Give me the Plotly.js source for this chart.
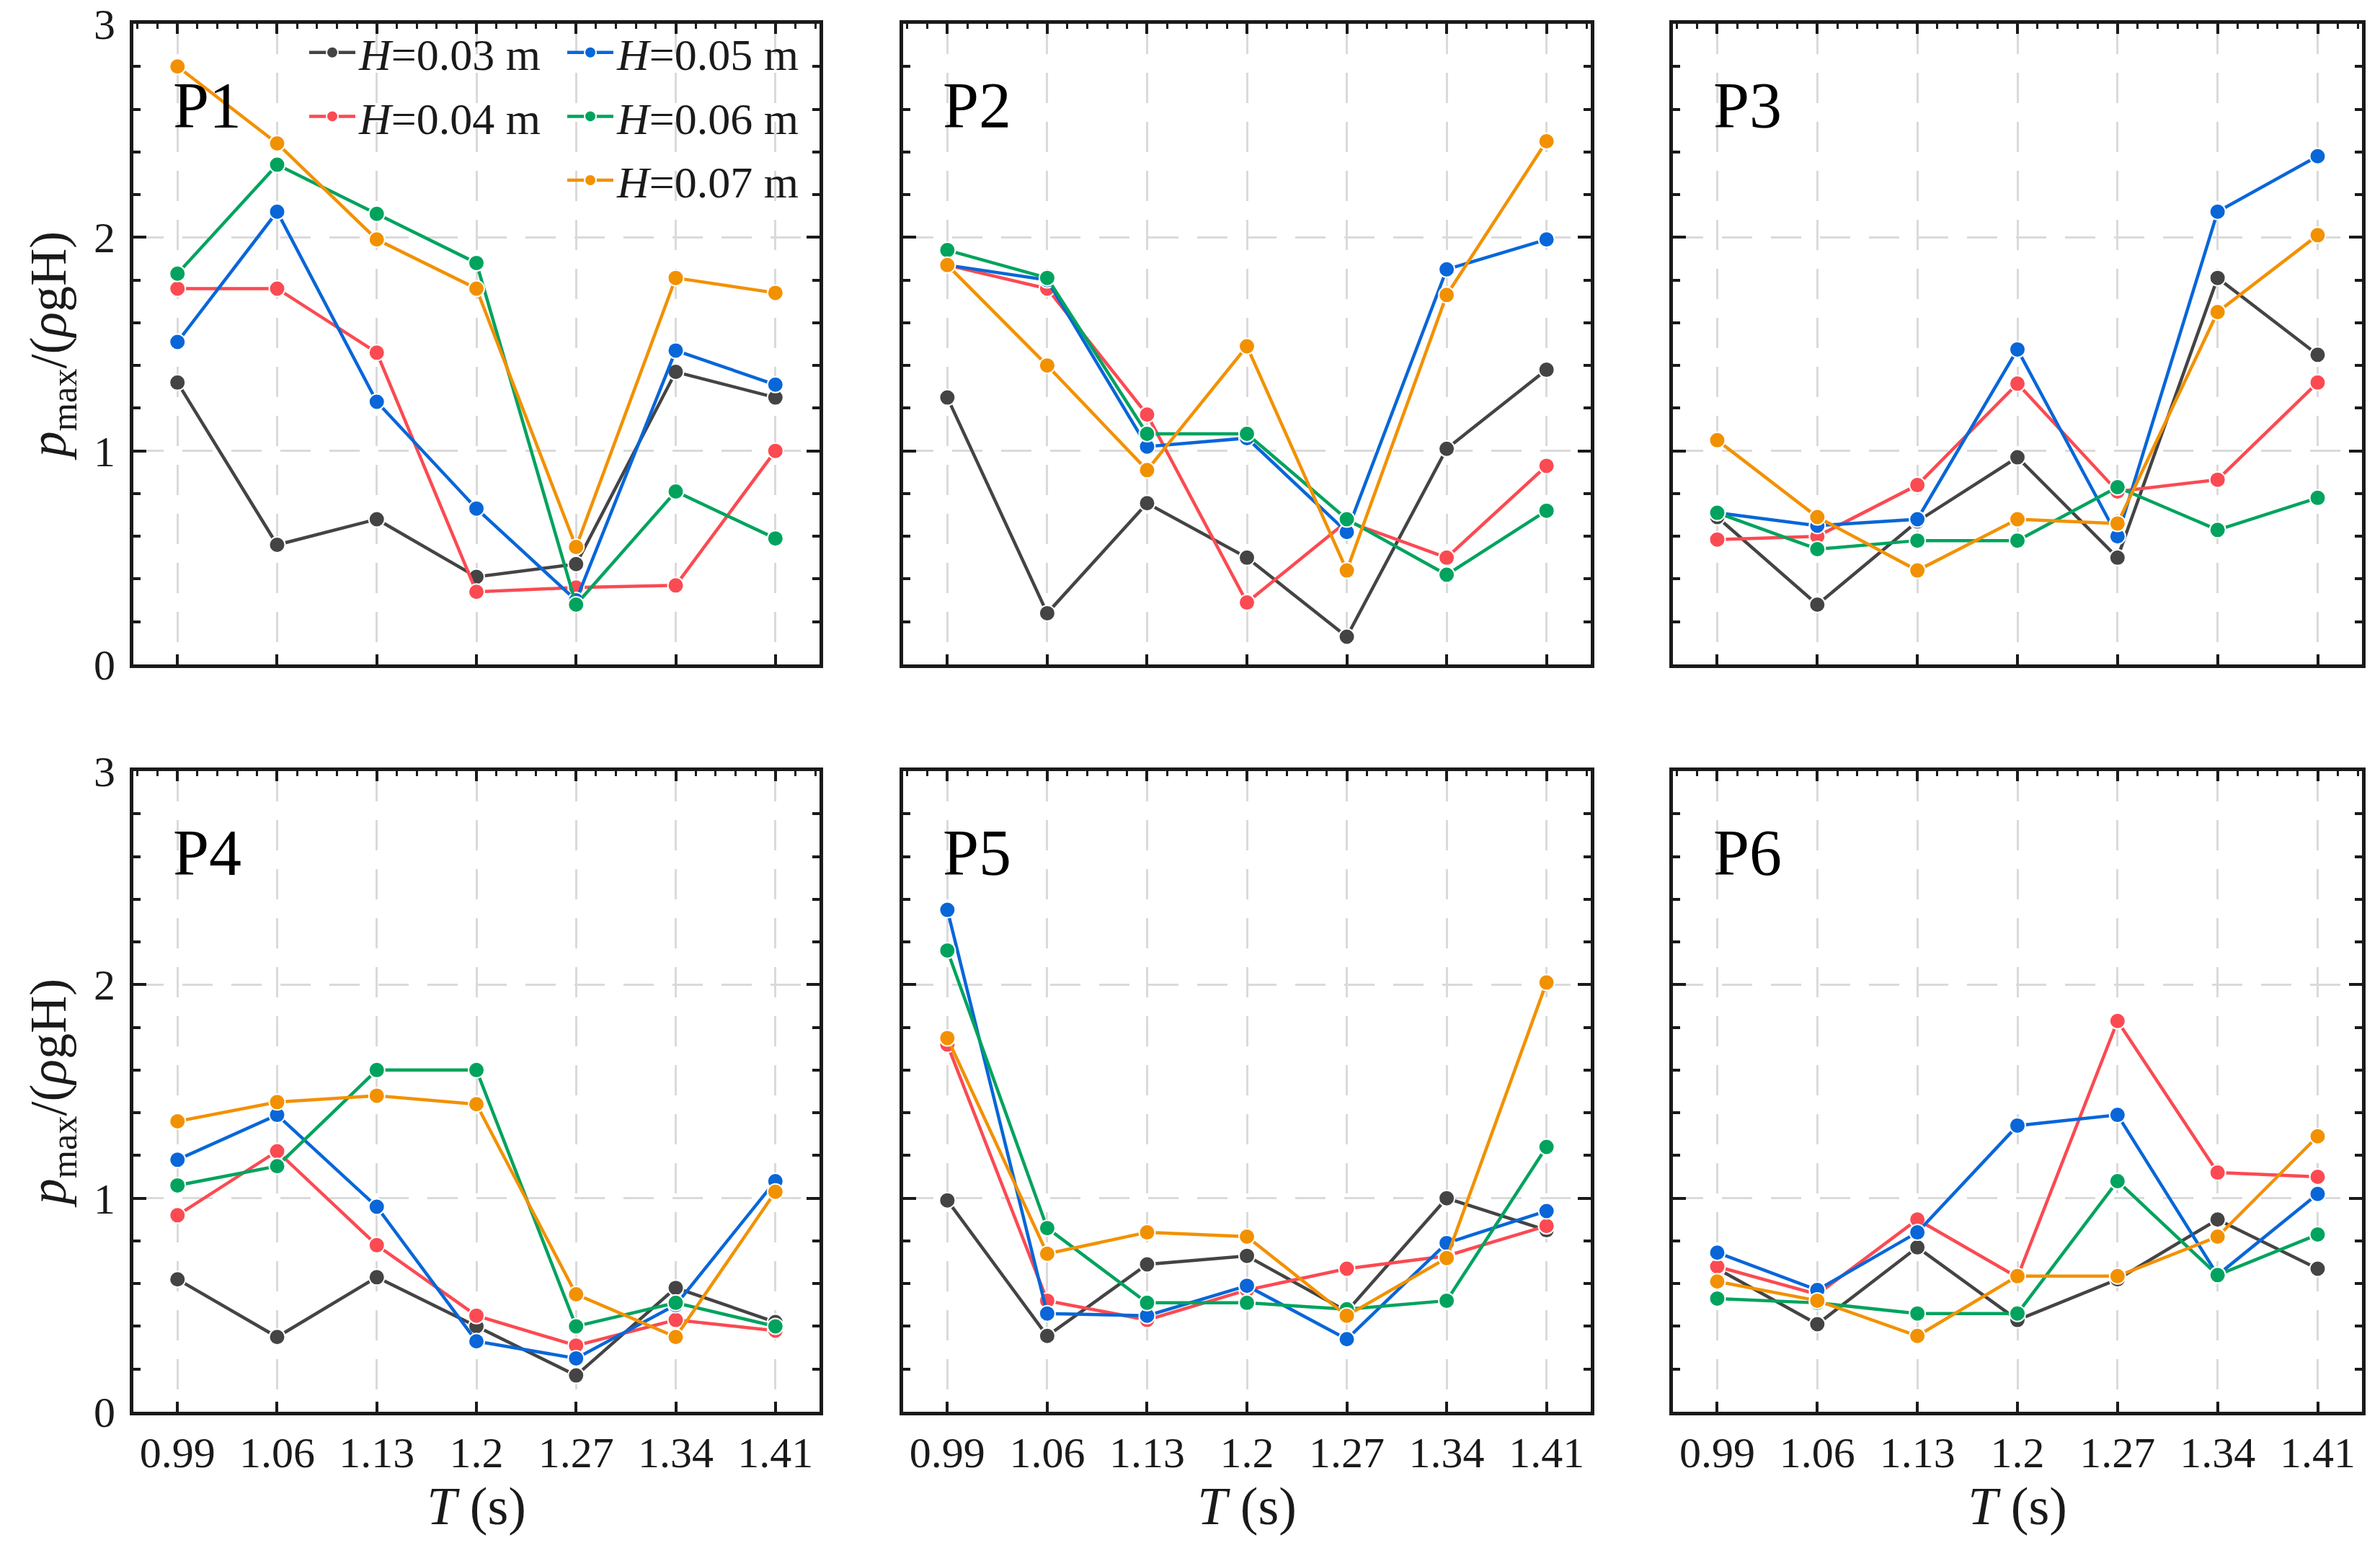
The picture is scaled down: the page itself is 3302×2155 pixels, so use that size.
<!DOCTYPE html>
<html>
<head>
<meta charset="utf-8">
<script src="https://cdn.plot.ly/plotly-3.0.1.min.js"></script>
<style>html,body{margin:0;padding:0;background:#fff;}#chart{width:3302px;height:2155px;}</style>
</head>
<body>
<div id="chart"></div>
<script>
// ---- data ----
const T = [0.99, 1.06, 1.13, 1.2, 1.27, 1.34, 1.41];
const tickLabels = ['0.99', '1.06', '1.13', '1.2', '1.27', '1.34', '1.41'];
const seriesNames = ['<i>H</i>=0.03 m', '<i>H</i>=0.04 m', '<i>H</i>=0.05 m', '<i>H</i>=0.06 m', '<i>H</i>=0.07 m'];
const panelNames = ['P1', 'P2', 'P3', 'P4', 'P5', 'P6'];

const P1_H003 = [1.32, 0.56, 0.68, 0.41, 0.47, 1.37, 1.25];
const P1_H004 = [1.76, 1.76, 1.46, 0.34, 0.36, 0.37, 1.00];
const P1_H005 = [1.51, 2.12, 1.23, 0.73, 0.30, 1.47, 1.31];
const P1_H006 = [1.83, 2.34, 2.11, 1.88, 0.28, 0.81, 0.59];
const P1_H007 = [2.80, 2.44, 1.99, 1.76, 0.55, 1.81, 1.74];

const P2_H003 = [1.25, 0.24, 0.755, 0.50, 0.13, 1.01, 1.38];
const P2_H004 = [1.87, 1.76, 1.17, 0.29, 0.67, 0.50, 0.93];
const P2_H005 = [1.87, 1.80, 1.02, 1.06, 0.62, 1.85, 1.99];
const P2_H006 = [1.94, 1.81, 1.08, 1.08, 0.68, 0.42, 0.72];
const P2_H007 = [1.87, 1.40, 0.91, 1.49, 0.44, 1.73, 2.45];

const P3_H003 = [0.69, 0.28, 0.67, 0.97, 0.50, 1.81, 1.45];
const P3_H004 = [0.585, 0.60, 0.84, 1.315, 0.81, 0.865, 1.32];
const P3_H005 = [0.71, 0.65, 0.68, 1.475, 0.60, 2.12, 2.38];
const P3_H006 = [0.71, 0.54, 0.58, 0.58, 0.83, 0.63, 0.78];
const P3_H007 = [1.05, 0.69, 0.44, 0.68, 0.66, 1.65, 2.01];

const P4_H003 = [0.62, 0.35, 0.63, 0.40, 0.17, 0.58, 0.42];
const P4_H004 = [0.92, 1.22, 0.78, 0.45, 0.31, 0.43, 0.38];
const P4_H005 = [1.18, 1.39, 0.96, 0.33, 0.25, 0.50, 1.08];
const P4_H006 = [1.06, 1.15, 1.60, 1.60, 0.40, 0.51, 0.40];
const P4_H007 = [1.36, 1.45, 1.48, 1.44, 0.55, 0.35, 1.03];

const P5_H003 = [0.99, 0.355, 0.69, 0.73, 0.47, 1.00, 0.85];
const P5_H004 = [1.72, 0.52, 0.43, 0.57, 0.67, 0.73, 0.87];
const P5_H005 = [2.35, 0.46, 0.45, 0.59, 0.34, 0.79, 0.94];
const P5_H006 = [2.16, 0.86, 0.51, 0.51, 0.48, 0.52, 1.24];
const P5_H007 = [1.75, 0.74, 0.84, 0.82, 0.45, 0.72, 2.01];

const P6_H003 = [0.67, 0.41, 0.77, 0.43, 0.62, 0.90, 0.67];
const P6_H004 = [0.68, 0.55, 0.90, 0.63, 1.83, 1.12, 1.10];
const P6_H005 = [0.745, 0.57, 0.84, 1.34, 1.39, 0.64, 1.02];
const P6_H006 = [0.53, 0.51, 0.46, 0.46, 1.08, 0.64, 0.83];
const P6_H007 = [0.61, 0.52, 0.355, 0.635, 0.635, 0.82, 1.29];

const panels = [
  [P1_H003, P1_H004, P1_H005, P1_H006, P1_H007],
  [P2_H003, P2_H004, P2_H005, P2_H006, P2_H007],
  [P3_H003, P3_H004, P3_H005, P3_H006, P3_H007],
  [P4_H003, P4_H004, P4_H005, P4_H006, P4_H007],
  [P5_H003, P5_H004, P5_H005, P5_H006, P5_H007],
  [P6_H003, P6_H004, P6_H005, P6_H006, P6_H007]
];
const colors = ['#444444', '#fb4a52', '#0866d8', '#00a35e', '#f29100'];

// ---- layout geometry ----
const W = 3302, H = 2155;
const colPx = [[185, 1137], [1253, 2207], [2321, 3277]];
const rowPx = [[33, 922], [1070, 1959]];
const FONT = '"Liberation Serif", "Times New Roman", serif';
const INK = '#1a1a1a';

const traces = [];
const legendCommon = {
  xanchor: 'left', yanchor: 'top',
  bgcolor: 'rgba(0,0,0,0)', borderwidth: 0,
  font: {family: FONT, size: 62, color: INK},
  itemwidth: 64, tracegroupgap: 5
};
const layout = {
  width: W, height: H,
  margin: {l: 0, r: 0, t: 0, b: 0},
  paper_bgcolor: '#ffffff', plot_bgcolor: '#ffffff',
  font: {family: FONT, color: INK, size: 60},
  showlegend: true,
  legend: Object.assign({x: 424 / W, y: 1 - 26 / H}, legendCommon),
  legend2: Object.assign({x: 782 / W, y: 1 - 26 / H}, legendCommon),
  annotations: []
};

for (let p = 0; p < 6; p++) {
  const idx = p + 1;
  const r = Math.floor(p / 3), c = p % 3;
  const xd = [colPx[c][0] / W, colPx[c][1] / W];
  const yd = [1 - rowPx[r][1] / H, 1 - rowPx[r][0] / H];
  const xName = 'x' + (idx === 1 ? '' : idx);
  const yName = 'y' + (idx === 1 ? '' : idx);
  const topIdx = idx + 6;

  const xa = {
    domain: xd, anchor: yName, range: [0.959, 1.441],
    tickmode: 'array', tickvals: T, ticktext: tickLabels,
    ticks: 'inside', ticklen: 14, tickwidth: 4, tickcolor: INK,
    showline: true, linewidth: 5, linecolor: INK, mirror: true,
    showgrid: true, gridcolor: '#dadada', gridwidth: 3, griddash: '42px,26px',
    zeroline: false, showticklabels: r === 1,
    tickfont: {family: FONT, size: 60, color: INK},
    ticklabelstandoff: 0
  };
  if (r === 1) xa.title = {text: '<i>T</i> (s)', font: {family: FONT, size: 74, color: INK}, standoff: 10};
  layout['xaxis' + (idx === 1 ? '' : idx)] = xa;

  layout['xaxis' + topIdx] = {
    domain: xd, anchor: yName, overlaying: xName, side: 'top', range: [0.959, 1.441],
    tickmode: 'array', tickvals: T, ticks: 'inside', ticklen: 14, tickwidth: 4, tickcolor: INK,
    showticklabels: false, showgrid: false, showline: false, zeroline: false,
    minor: {tickmode: 'linear', tick0: 0.99, dtick: 0.014, ticks: 'inside', ticklen: 7, tickwidth: 3, tickcolor: INK, showgrid: false}
  };

  const ya = {
    domain: yd, anchor: xName, range: [0, 3],
    tickmode: 'array', tickvals: [0, 1, 2, 3],
    ticks: 'inside', ticklen: 18, tickwidth: 4, tickcolor: INK,
    showline: true, linewidth: 5, linecolor: INK, mirror: 'ticks',
    showgrid: true, gridcolor: '#dadada', gridwidth: 3, griddash: '42px,26px',
    zeroline: false, showticklabels: c === 0,
    tickfont: {family: FONT, size: 60, color: INK},
    ticklabelstandoff: 8,
    minor: {tickmode: 'linear', tick0: 0, dtick: 0.2, ticks: 'inside', ticklen: 10, tickwidth: 4, tickcolor: INK, showgrid: false}
  };
  if (c === 0) ya.title = {text: '<i>p</i><sub>max</sub>/(<i>ρ</i>gH)', font: {family: FONT, size: 72, color: INK}, standoff: 16};
  layout['yaxis' + (idx === 1 ? '' : idx)] = ya;

  // dummy trace to realise the top tick axis
  traces.push({x: [], y: [], xaxis: 'x' + topIdx, yaxis: yName, showlegend: false, hoverinfo: 'skip', mode: 'lines'});

  panels[p].forEach((vals, k) => {
    traces.push({
      x: T, y: vals, xaxis: xName, yaxis: yName,
      mode: 'lines+markers', name: seriesNames[k],
      legend: k < 2 ? 'legend' : 'legend2',
      legendgroup: 'g' + k,
      showlegend: p === 0,
      line: {color: colors[k], width: 4.5},
      marker: {symbol: 'circle', size: 22, color: colors[k], line: {color: '#ffffff', width: 2}},
      cliponaxis: false
    });
  });

  layout.annotations.push({
    xref: xName + ' domain', yref: yName + ' domain',
    x: 0.056, y: 0.872, xanchor: 'left', yanchor: 'middle',
    text: panelNames[p], showarrow: false,
    font: {family: FONT, size: 90, color: '#000000'}
  });
}

Plotly.newPlot('chart', traces, layout, {displayModeBar: false, staticPlot: true});
</script>
</body>
</html>
